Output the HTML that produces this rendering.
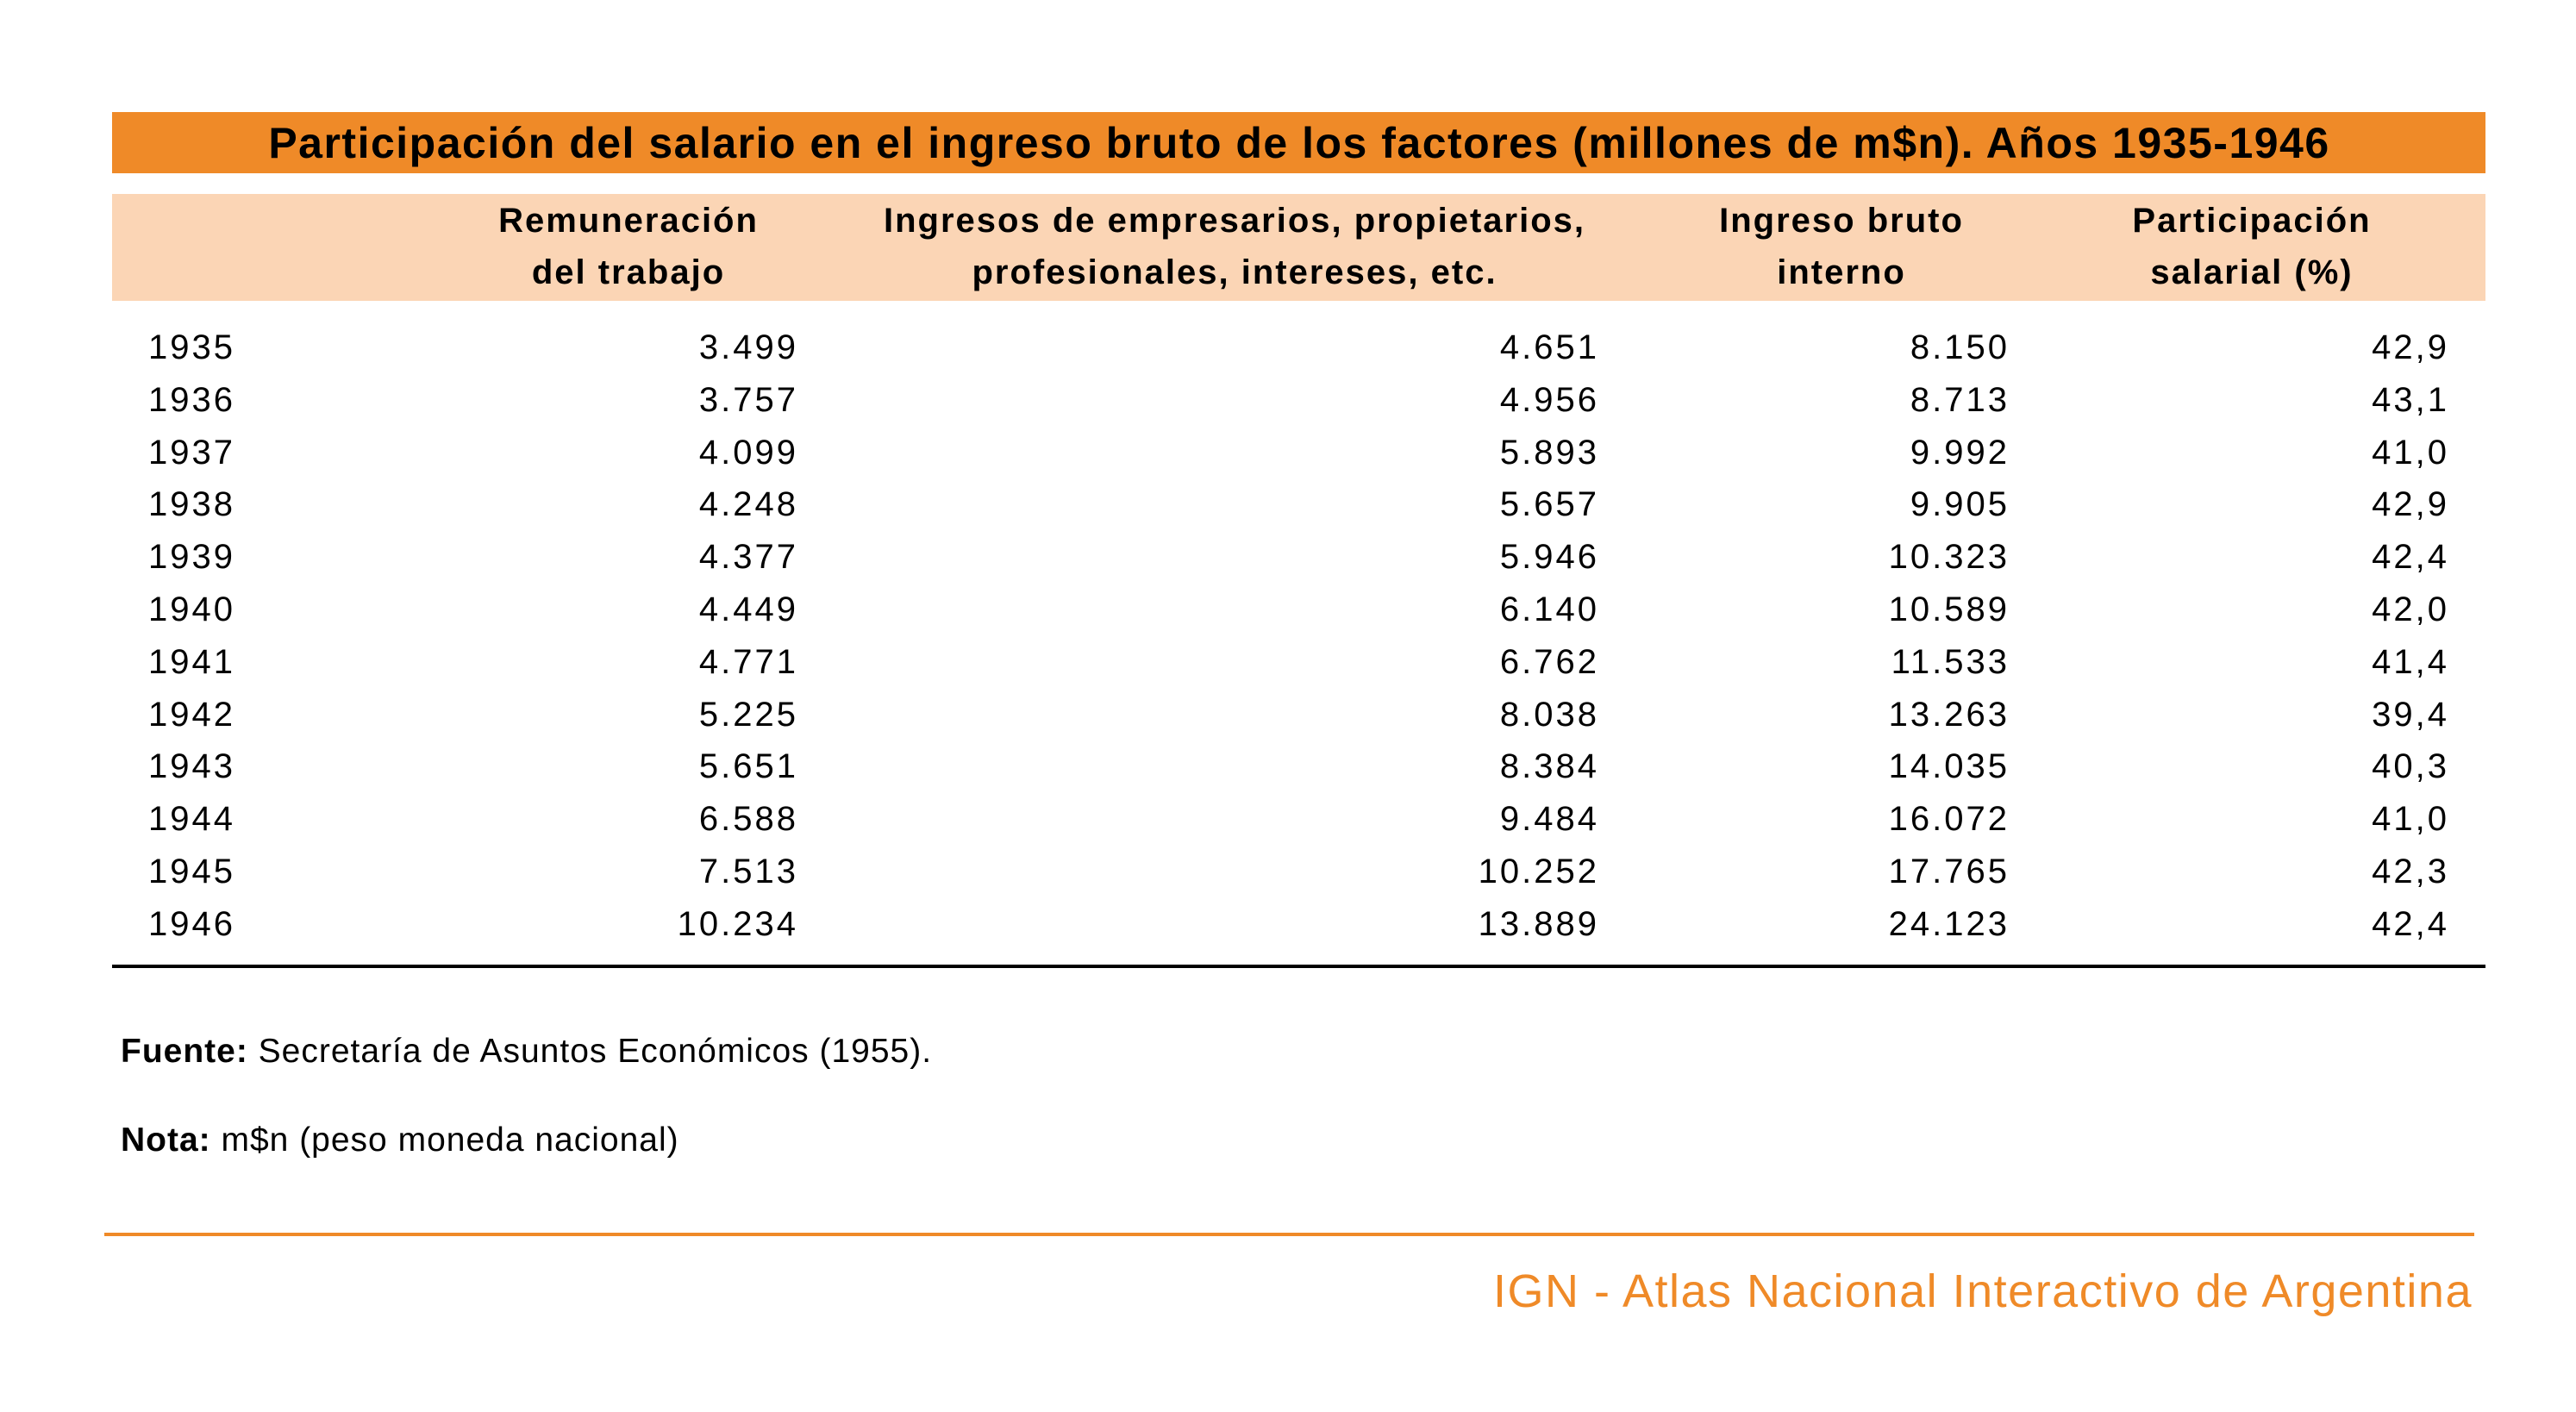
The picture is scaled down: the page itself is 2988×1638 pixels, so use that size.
<!DOCTYPE html>
<html><head><meta charset="utf-8"><style>
html,body{margin:0;padding:0;background:#fff;}
body{width:2988px;height:1638px;position:relative;overflow:hidden;font-family:"Liberation Sans",sans-serif;color:#000;}
.a{position:absolute;white-space:nowrap;}
.bar{position:absolute;left:130px;width:2753px;}
.h{font-weight:bold;font-size:40px;letter-spacing:2px;text-align:center;line-height:60px;transform:translateX(-50%);}
.r{font-size:40px;line-height:50px;letter-spacing:3px;}
.rt{text-align:right;transform:translateX(-100%);}
</style></head><body>
<div class="bar" style="top:130px;height:71px;background:#EF8A28;"></div>
<div class="a" style="left:1507px;top:136px;line-height:60px;font-size:50px;letter-spacing:1.5px;font-weight:bold;transform:translateX(-50%);">Participación del salario en el ingreso bruto de los factores (millones de m$n). Años 1935-1946</div>
<div class="bar" style="top:225px;height:124px;background:#FBD5B5;"></div>
<div class="a h" style="left:729px;top:226px;">Remuneración<br>del trabajo</div>
<div class="a h" style="left:1432px;top:226px;">Ingresos de empresarios, propietarios,<br>profesionales, intereses, etc.</div>
<div class="a h" style="left:2136px;top:226px;">Ingreso bruto<br>interno</div>
<div class="a h" style="left:2612px;top:226px;">Participación<br>salarial (%)</div>
<div id="rows"></div>
<div class="bar" style="top:1119px;height:4px;width:2753px;background:#000;"></div>
<div class="a" style="left:140px;top:1196px;font-size:39px;letter-spacing:1px;line-height:48px;"><b>Fuente:</b> Secretaría de Asuntos Económicos (1955).</div>
<div class="a" style="left:140px;top:1299px;font-size:39px;letter-spacing:1px;line-height:48px;"><b>Nota:</b> m$n (peso moneda nacional)</div>
<div class="a" style="left:121px;top:1430px;width:2749px;height:4px;background:#EF8A28;"></div>
<div class="a" style="left:2868px;top:1468px;font-size:54px;letter-spacing:1.5px;line-height:60px;color:#EF8A28;transform:translateX(-100%);">IGN - Atlas Nacional Interactivo de Argentina</div>
<script>
var d=[["1935","3.499","4.651","8.150","42,9"],["1936","3.757","4.956","8.713","43,1"],["1937","4.099","5.893","9.992","41,0"],["1938","4.248","5.657","9.905","42,9"],["1939","4.377","5.946","10.323","42,4"],["1940","4.449","6.140","10.589","42,0"],["1941","4.771","6.762","11.533","41,4"],["1942","5.225","8.038","13.263","39,4"],["1943","5.651","8.384","14.035","40,3"],["1944","6.588","9.484","16.072","41,0"],["1945","7.513","10.252","17.765","42,3"],["1946","10.234","13.889","24.123","42,4"]];
var xs=[926,1855,2331,2841],h="";
for(var i=0;i<d.length;i++){var t=403+i*60.8-25;
h+='<div class="a r" style="left:172px;top:'+t+'px">'+d[i][0]+'</div>';
for(var j=0;j<4;j++)h+='<div class="a r rt" style="left:'+xs[j]+'px;top:'+t+'px">'+d[i][j+1]+'</div>';}
document.getElementById('rows').innerHTML=h;
</script>
</body></html>
